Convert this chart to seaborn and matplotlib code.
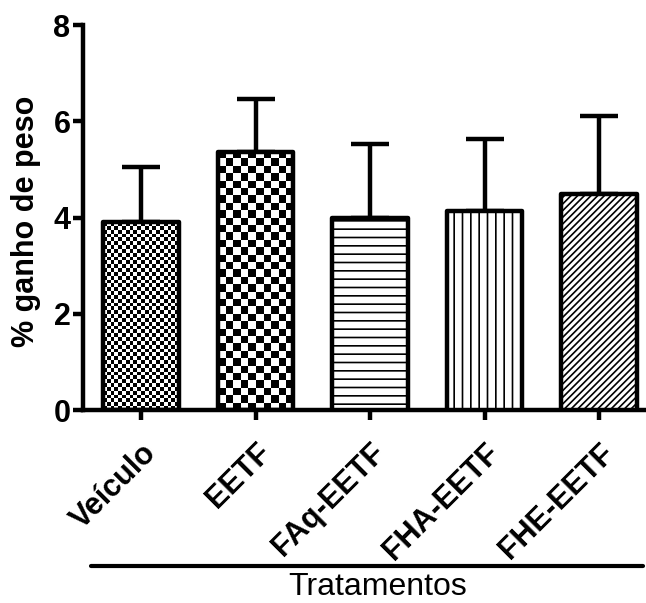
import numpy as np
import pandas as pd
import matplotlib
matplotlib.use("Agg")
import matplotlib.pyplot as plt
import seaborn as sns
from matplotlib.lines import Line2D

# ---- data ----
categories = ["Veículo", "EETF", "FAq-EETF", "FHA-EETF", "FHE-EETF"]
means = [3.90, 5.37, 4.00, 4.13, 4.48]
sd_upper = [1.14, 1.09, 1.52, 1.50, 1.64]
y_ticks = [0, 2, 4, 6, 8]
y_label = "% ganho de peso"
x_label = "Tratamentos"

sns.set_theme(style="ticks")
plt.rcParams["font.family"] = ["Liberation Sans", "DejaVu Sans"]
plt.rcParams["hatch.linewidth"] = 1.2
plt.rcParams["hatch.color"] = "black"
for k in ["text.color", "axes.labelcolor", "xtick.color", "ytick.color",
          "axes.edgecolor"]:
    plt.rcParams[k] = "black"

LW = 3.2

fig = plt.figure(figsize=(6.46, 6.03), dpi=100)
ax = fig.add_axes([0.1285, 0.320, 0.8715, 0.6385])

df = pd.DataFrame({"cat": categories, "mean": means})
sns.barplot(data=df, x="cat", y="mean", ax=ax, color="white",
            edgecolor="black", linewidth=LW, width=0.66, zorder=3,
            saturation=1)

xpos = np.arange(len(categories))
ax.errorbar(xpos, means, yerr=[np.zeros(len(means)), sd_upper], fmt="none",
            ecolor="black", elinewidth=LW, capsize=14, capthick=LW, zorder=2)

ax.set_xlim(-0.507, 4.41)
ax.set_ylim(0, 8)

checker_px = {0: 3.8, 1: 7.3}
hatches = {2: "--", 3: "||", 4: "/////"}
bars = list(ax.patches)
for i, patch in enumerate(bars):
    patch.set_joinstyle("round")
    if i in checker_px:
        patch.set_facecolor("none")
        x0, y0 = patch.get_x(), patch.get_y()
        w, h = patch.get_width(), patch.get_height()
        bb = patch.get_window_extent()
        nx = max(1, int(round(bb.width / checker_px[i])))
        ny = max(1, int(round(bb.height / checker_px[i])))
        arr = np.indices((ny, nx)).sum(axis=0) % 2
        im = ax.imshow(arr, cmap="gray", extent=(x0, x0 + w, y0, y0 + h),
                       origin="upper", interpolation="nearest", aspect="auto",
                       zorder=2.5, vmin=0, vmax=1)
        im.set_clip_path(patch)
    else:
        patch.set_hatch(hatches[i])

ax.set_xlim(-0.507, 4.41)
ax.set_ylim(0, 8)
ax.set_yticks(y_ticks)
ax.set_yticklabels([str(t) for t in y_ticks], fontsize=22, fontweight="bold")
ax.set_xticks(xpos)
ax.set_xticklabels(categories, rotation=45, ha="right", va="top",
                   rotation_mode="anchor", fontsize=22, fontweight="bold")
ax.tick_params(axis="both", direction="out", length=7, width=LW, color="black",
               labelcolor="black")
ax.tick_params(axis="y", pad=2)
ax.tick_params(axis="x", pad=13)

for s in ["top", "right"]:
    ax.spines[s].set_visible(False)
for s in ["left", "bottom"]:
    ax.spines[s].set_linewidth(LW)
    ax.spines[s].set_color("black")

ax.set_xlabel("")
ax.set_ylabel(y_label, fontsize=22, fontweight="bold", color="black")
ax.yaxis.set_label_coords(-0.075, 0.49)

fig.add_artist(Line2D([0.141, 0.995], [0.061, 0.061], transform=fig.transFigure,
                      color="black", lw=3))
fig.text(0.584, 0.002, x_label, ha="center", va="bottom", fontsize=23,
         color="black")

fig.savefig("out.png", dpi=100)
